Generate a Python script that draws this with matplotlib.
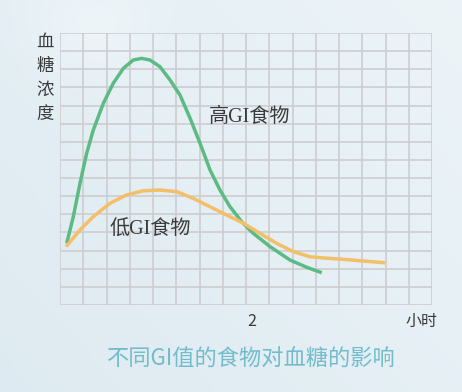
import matplotlib.pyplot as plt
import numpy as np

plt.rcParams['font.family'] = ['Noto Sans CJK SC', 'DejaVu Sans']

# 时间 (小时) 与血糖浓度 (网格单位)
high_t = [0.072, 0.143, 0.215, 0.287, 0.358, 0.466, 0.573, 0.681, 0.788, 0.878,
          0.968, 1.075, 1.183, 1.290, 1.398, 1.505, 1.613, 1.720, 1.828, 1.954,
          2.078, 2.258, 2.473, 2.653, 2.814]
high_g = [3.40, 4.87, 6.71, 8.37, 9.65, 11.12, 12.23, 13.05, 13.51, 13.60,
          13.51, 13.14, 12.41, 11.58, 10.31, 8.93, 7.45, 6.34, 5.42, 4.59,
          3.95, 3.22, 2.48, 2.08, 1.78]
low_t = [0.065, 0.215, 0.358, 0.538, 0.717, 0.896, 1.075, 1.255, 1.433, 1.613,
         1.792, 1.971, 2.151, 2.330, 2.509, 2.688, 2.868, 3.046, 3.226, 3.495]
low_g = [3.22, 4.14, 4.87, 5.61, 6.07, 6.30, 6.34, 6.25, 5.88, 5.42,
         4.96, 4.51, 3.95, 3.40, 2.94, 2.66, 2.58, 2.52, 2.44, 2.33]

high_label = '高GI食物'
low_label = '低GI食物'
y_label = '血\n糖\n浓\n度'
x_tick = '2'
x_unit = '小时'
title = '不同GI值的食物对血糖的影响'

fig = plt.figure(figsize=(4.62, 3.92), dpi=100)

# background
bg = fig.add_axes([0, 0, 1, 1])
yy, xx = np.mgrid[0:1:200j, 0:1:200j]
shade = 0.45 * xx + 0.35 * (1 - yy) + 0.45 * np.exp(-((xx - 0.2) ** 2 + (yy - 0.06) ** 2) / 0.015)
c0 = np.array([0.87, 0.92, 0.945])
c1 = np.array([0.94, 0.965, 0.98])
img = c0 + (c1 - c0) * np.clip(shade, 0, 1)[..., None]
bg.imshow(img, extent=[0, 1, 0, 1], aspect='auto')
bg.axis('off')

ax = fig.add_axes([60 / 462, 87 / 392, 372 / 462, 272 / 392])
ax.set_facecolor('none')
ax.set_xlim(0, 4)
ax.set_ylim(0, 15)
ax.set_xticks(np.arange(0, 4.01, 0.25))
ax.set_yticks(np.arange(0, 15.1, 1))
ax.grid(True, color='#cdcdd1', linewidth=1.2)
ax.tick_params(length=0, labelbottom=False, labelleft=False)
for s in ax.spines.values():
    s.set_visible(False)
ax.set_axisbelow(True)

ax.plot(high_t, high_g, color='#5cbb84', lw=2.5, solid_joinstyle='round', solid_capstyle='butt')
ax.plot(low_t, low_g, color='#f3bf68', lw=2.5, solid_joinstyle='round', solid_capstyle='butt')

lab_font = ['Liberation Serif', 'Noto Sans CJK SC']
ax.text(2.04, 10.33, high_label, fontsize=14.5, color='#3a3a3a', ha='center', va='center', family=lab_font)
ax.text(0.97, 4.12, low_label, fontsize=14.5, color='#3a3a3a', ha='center', va='center', family=lab_font)

fig.text(45 / 462, 1 - 78 / 392, y_label, fontsize=12.5, color='#3a3a3a',
         ha='center', va='center', linespacing=1.42)
fig.text(252 / 462, 1 - 321 / 392, x_tick, fontsize=11.5, color='#3a3a3a', ha='center', va='center')
fig.text(422 / 462, 1 - 321 / 392, x_unit, fontsize=11.5, color='#3a3a3a', ha='center', va='center')
fig.text(250 / 462, 1 - 359 / 392, title, fontsize=16, color='#72bccb', ha='center', va='center')

fig.savefig('out.png', dpi=100)
